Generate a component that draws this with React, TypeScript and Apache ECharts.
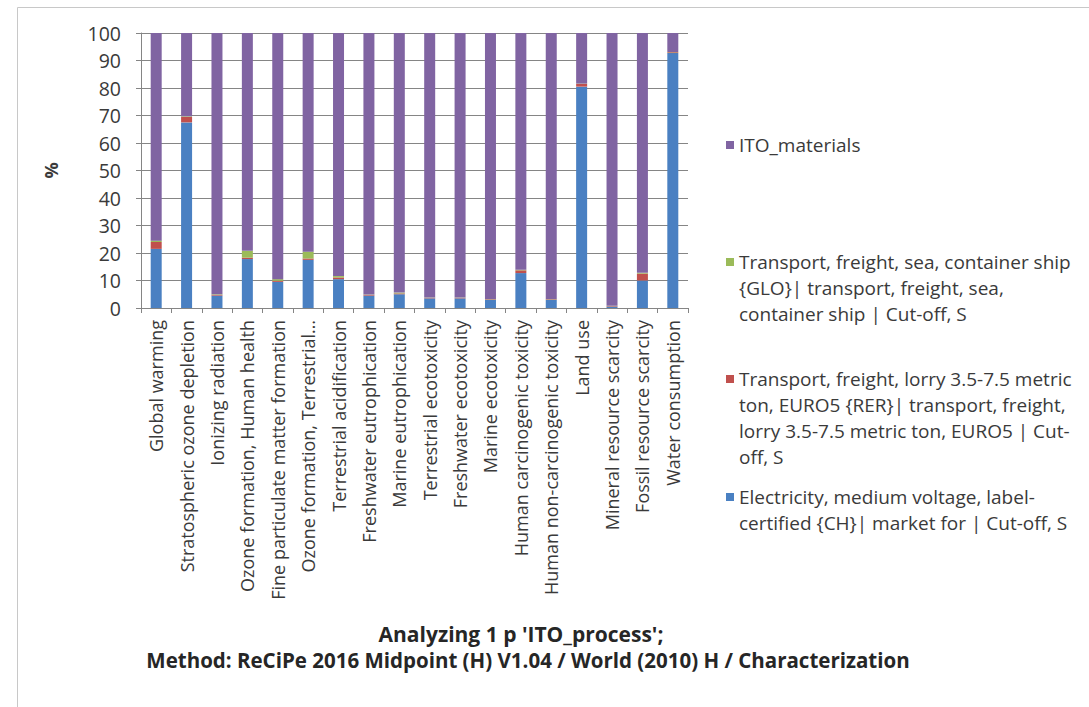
import React, { useEffect, useRef } from "react";
import * as echarts from "echarts";

// Impact categories (ReCiPe 2016 midpoint)
const categories = [
  "Global warming",
  "Stratospheric ozone depletion",
  "Ionizing radiation",
  "Ozone formation, Human health",
  "Fine particulate matter formation",
  "Ozone formation, Terrestrial…",
  "Terrestrial acidification",
  "Freshwater eutrophication",
  "Marine eutrophication",
  "Terrestrial ecotoxicity",
  "Freshwater ecotoxicity",
  "Marine ecotoxicity",
  "Human carcinogenic toxicity",
  "Human non-carcinogenic toxicity",
  "Land use",
  "Mineral resource scarcity",
  "Fossil resource scarcity",
  "Water consumption",
];

// Contribution of each process, in % of the category total
const electricity = [21.5, 67.5, 4.5, 17.8, 9.5, 17.5, 10.5, 4.5, 5.0, 3.5, 3.5, 3.0, 12.7, 3.0, 80.5, 0.5, 10.0, 92.7];
const lorry = [2.5, 2.0, 0.3, 0.5, 0.4, 0.5, 0.6, 0.3, 0.3, 0.2, 0.2, 0.2, 1.0, 0.2, 1.0, 0.2, 2.5, 0.3];
const sea = [0.5, 0.2, 0.2, 2.5, 0.6, 2.5, 0.5, 0.1, 0.3, 0.1, 0.1, 0.1, 0.2, 0.1, 0.1, 0.1, 0.3, 0.1];
const itoMaterials = [75.5, 30.3, 95.0, 79.2, 89.5, 79.5, 88.4, 95.1, 94.4, 96.2, 96.2, 96.7, 86.1, 96.7, 18.4, 99.2, 87.2, 6.9];

const yTicks = { min: 0, max: 100, interval: 10 };

const NAME_ITO = "ITO_materials";
const NAME_SEA = "Transport, freight, sea, container ship {GLO}| transport, freight, sea, container ship | Cut-off, S";
const NAME_LORRY = "Transport, freight, lorry 3.5-7.5 metric ton, EURO5 {RER}| transport, freight, lorry 3.5-7.5 metric ton, EURO5 | Cut-off, S";
const NAME_ELEC = "Electricity, medium voltage, label-certified {CH}| market for | Cut-off, S";

// Wrapped legend text, one entry per line
const legendLines: Record<string, string[]> = {
  [NAME_ITO]: ["ITO_materials"],
  [NAME_SEA]: ["Transport, freight, sea, container ship", "{GLO}| transport, freight, sea,", "container ship | Cut-off, S"],
  [NAME_LORRY]: [
    "Transport, freight, lorry 3.5-7.5 metric",
    "ton, EURO5 {RER}| transport, freight,",
    "lorry 3.5-7.5 metric ton, EURO5 | Cut-",
    "off, S",
  ],
  [NAME_ELEC]: ["Electricity, medium voltage, label-", "certified {CH}| market for | Cut-off, S"],
};

const titleLines = [
  "Analyzing 1 p 'ITO_process';",
  "Method: ReCiPe 2016 Midpoint (H) V1.04 / World (2010) H / Characterization",
];

const COLORS = {
  ito: "#8064A2",
  sea: "#9BBB59",
  lorry: "#C0504D",
  elec: "#4A80C2",
};

const FONT = "'Open Sans', sans-serif";
const LINE_H = 26;
const GRID_COLOR = "#858585";
const TEXT_COLOR = "#3a3a3a";

export default function App() {
  const ref = useRef<HTMLDivElement>(null);

  useEffect(() => {
    const chart = echarts.init(ref.current!, null, { renderer: "svg" });

    // Pad the text with blank lines above so the legend square lines up with the first line
    const legendFormatter = (name: string) => {
      const lines = legendLines[name] || [name];
      const pad = new Array(lines.length - 1).fill("");
      return [...pad, ...lines].join("\n");
    };

    const legendAt = (name: string, firstLineCenter: number) => {
      const n = (legendLines[name] || [name]).length;
      return {
        data: [name],
        left: 726,
        top: firstLineCenter - (n - 1) * LINE_H - LINE_H / 2,
        orient: "vertical",
        padding: 0,
        itemWidth: 8,
        itemHeight: 8,
        icon: "rect",
        selectedMode: false,
        formatter: legendFormatter,
        textStyle: { fontFamily: FONT, fontSize: 19, lineHeight: LINE_H, color: TEXT_COLOR },
      };
    };

    const barSeries = (name: string, data: number[], color: string) => ({
      name,
      type: "bar",
      stack: "total",
      data,
      barWidth: 11,
      itemStyle: { color },
    });

    chart.setOption({
      animation: false,
      backgroundColor: "#ffffff",
      legend: [
        legendAt(NAME_ITO, 145),
        legendAt(NAME_SEA, 262),
        legendAt(NAME_LORRY, 379),
        legendAt(NAME_ELEC, 497),
      ],
      grid: { left: 141, right: 401, top: 33, bottom: 399, containLabel: false },
      xAxis: {
        type: "category",
        data: categories,
        axisLine: { show: true, lineStyle: { color: GRID_COLOR, width: 1 } },
        axisTick: { show: true, interval: 0, alignWithLabel: false, length: 5, lineStyle: { color: GRID_COLOR } },
        axisLabel: {
          interval: 0,
          rotate: 90,
          margin: 12,
          fontFamily: FONT,
          fontSize: 18,
          color: TEXT_COLOR,
        },
      },
      yAxis: {
        type: "value",
        min: yTicks.min,
        max: yTicks.max,
        interval: yTicks.interval,
        name: "%",
        nameLocation: "middle",
        nameRotate: 90,
        nameGap: 81,
        nameTextStyle: { fontFamily: FONT, fontSize: 18, fontWeight: "bold", color: TEXT_COLOR },
        axisLine: { show: true, lineStyle: { color: GRID_COLOR, width: 1 } },
        axisTick: { show: true, length: 5, inside: false, lineStyle: { color: GRID_COLOR } },
        axisLabel: { margin: 20, fontFamily: FONT, fontSize: 19.5, color: TEXT_COLOR },
        splitLine: { show: true, lineStyle: { color: GRID_COLOR, width: 1 } },
      },
      series: [
        barSeries(NAME_ELEC, electricity, COLORS.elec),
        barSeries(NAME_LORRY, lorry, COLORS.lorry),
        barSeries(NAME_SEA, sea, COLORS.sea),
        barSeries(NAME_ITO, itoMaterials, COLORS.ito),
      ],
      graphic: [
        {
          type: "rect",
          shape: { x: 17.5, y: 7.5, width: 1100, height: 720 },
          style: { fill: "none", stroke: "#c8c8c8", lineWidth: 1 },
          silent: true,
        },
        {
          type: "text",
          x: 521,
          y: 634,
          style: {
            text: titleLines[0],
            fontFamily: FONT,
            fontSize: 21,
            fontWeight: "bold",
            fill: "#262626",
            align: "center",
            verticalAlign: "middle",
          },
        },
        {
          type: "text",
          x: 528,
          y: 660,
          style: {
            text: titleLines[1],
            fontFamily: FONT,
            fontSize: 20.5,
            fontWeight: "bold",
            fill: "#262626",
            align: "center",
            verticalAlign: "middle",
          },
        },
      ],
    });

    return () => chart.dispose();
  }, []);

  return (
    <div
      ref={ref}
      style={{ position: "fixed", left: 0, top: 0, width: 1089, height: 707, background: "#ffffff" }}
    />
  );
}
